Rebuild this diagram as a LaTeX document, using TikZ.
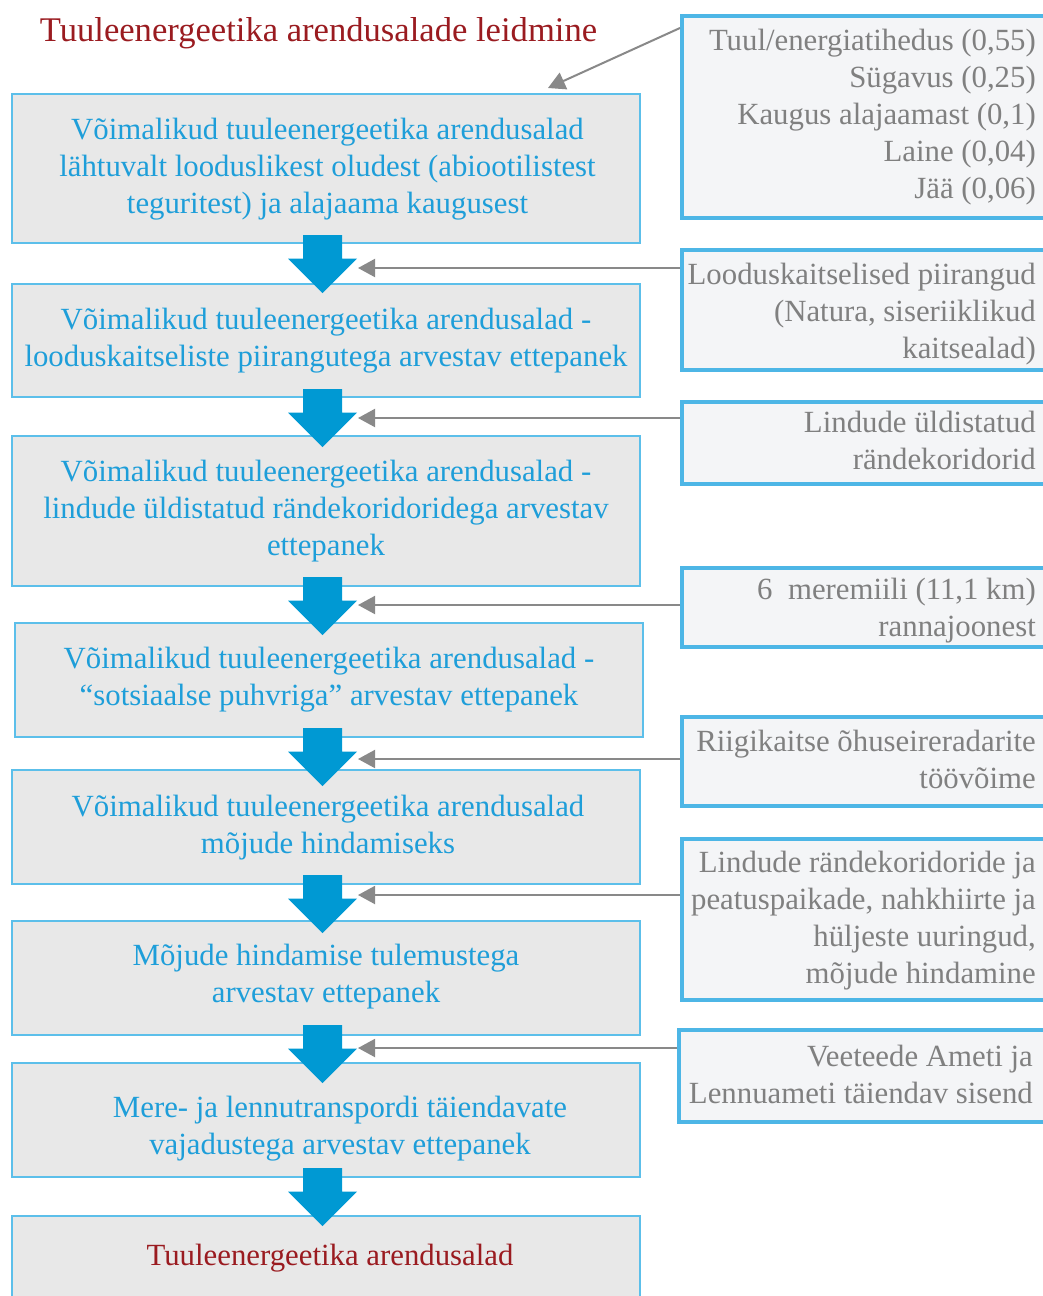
\documentclass[tikz,border=0pt]{standalone}
\usepackage{fontspec}
\setmainfont{Liberation Serif}
\usetikzlibrary{arrows.meta}
\definecolor{boxfill}{HTML}{E8E8E8}
\definecolor{boxline}{HTML}{5CBFEA}
\definecolor{sidefill}{HTML}{F4F5F7}
\definecolor{sideline}{HTML}{4DB6E6}
\definecolor{bluetext}{HTML}{1E9ED9}
\definecolor{graytext}{HTML}{808080}
\definecolor{darkred}{HTML}{9A1B20}
\definecolor{arrowblue}{HTML}{0099D3}
\definecolor{conngray}{HTML}{898989}
\begin{document}
\begin{tikzpicture}[x=1pt,y=1pt,
 bodyfont/.style={font=\fontsize{30.8}{37}\selectfont},
 mainbox/.style={draw=boxline, line width=1.8pt, fill=boxfill, minimum width=628pt, inner sep=0pt, align=center, text=bluetext, bodyfont},
 maintext/.style={align=center, text=bluetext, inner sep=0pt, bodyfont},
 sidebox/.style={draw=sideline, line width=3.5pt, fill=sidefill, minimum width=380pt, inner sep=0pt, anchor=north west},
 sidetext/.style={anchor=east, align=right, text=graytext, inner sep=0pt, bodyfont},
 conn/.style={draw=conngray, line width=2pt, -{Triangle[length=17pt,width=18pt]}},
 downarrow/.pic={\fill[arrowblue] (-19.5,0) -- (19.5,0) -- (19.5,-23.5) -- (34.5,-23.5) -- (0,-58) -- (-34.5,-23.5) -- (-19.5,-23.5) -- cycle;}
]
\useasboundingbox (0,0) rectangle (1042,-1296);

% title
\node[text=darkred, font=\fontsize{34.6}{40}\selectfont, inner sep=0pt] (title) at (318.5,-33) {Tuuleenergeetika arendusalade leidmine};

% main boxes
\node[mainbox, minimum height=149pt] (L1) at (326,-168.5) {};
\node[maintext] (L1t) at (327.5,-169) {Võimalikud tuuleenergeetika arendusalad\\lähtuvalt looduslikest oludest (abiootilistest\\teguritest) ja alajaama kaugusest};
\node[mainbox, minimum height=113pt] (L2) at (326,-340.5) {Võimalikud tuuleenergeetika arendusalad -\\looduskaitseliste piirangutega arvestav ettepanek};
\node[mainbox, minimum height=150pt] (L3) at (326,-511) {Võimalikud tuuleenergeetika arendusalad -\\lindude üldistatud rändekoridoridega arvestav\\ettepanek};
\node[mainbox, minimum height=114pt] (L4) at (329,-680) {Võimalikud tuuleenergeetika arendusalad -\\“sotsiaalse puhvriga” arvestav ettepanek};
\node[mainbox, minimum height=114pt] (L5) at (326,-827) {};
\node[maintext] (L5t) at (328,-828) {Võimalikud tuuleenergeetika arendusalad\\mõjude hindamiseks};
\node[mainbox, minimum height=114pt] (L6) at (326,-978) {};
\node[maintext] (L6t) at (326,-977) {Mõjude hindamise tulemustega\\arvestav ettepanek};
\node[mainbox, minimum height=114pt] (L7) at (326,-1120) {};
\node[maintext] (L7t) at (340,-1129) {Mere- ja lennutranspordi täiendavate\\vajadustega arvestav ettepanek};
\node[mainbox, minimum height=110pt, anchor=north] (L8) at (326,-1215) {};
\node[text=darkred, bodyfont, inner sep=0pt] (L8t) at (330,-1258) {Tuuleenergeetika arendusalad};

% side boxes
\node[sidebox, minimum height=202pt] (R1) at (680,-14) {};
\node[sidebox, minimum height=120pt] (R2) at (680,-248) {};
\node[sidebox, minimum height=82pt] (R3) at (680,-400) {};
\node[sidebox, minimum height=79pt] (R4) at (680,-566) {};
\node[sidebox, minimum height=89pt] (R5) at (680,-715) {};
\node[sidebox, minimum height=161pt] (R6) at (680,-837) {};
\node[sidebox, minimum height=92pt, minimum width=383pt] (R7) at (677,-1028) {};

\node[sidetext] (R1t) at (1036,-117) {Tuul/energiatihedus (0,55)\\Sügavus (0,25)\\Kaugus alajaamast (0,1)\\Laine (0,04)\\Jää (0,06)};
\node[sidetext] (R2t) at (1036,-314) {Looduskaitselised piirangud\\(Natura, siseriiklikud\\kaitsealad)};
\node[sidetext] (R3t) at (1036,-440.5) {Lindude üldistatud\\rändekoridorid};
\node[sidetext] (R4t) at (1036,-610.5) {6\ \ meremiili (11,1 km)\\rannajoonest};
\node[sidetext] (R5t) at (1036,-759.5) {Riigikaitse õhuseireradarite\\töövõime};
\node[sidetext] (R6t) at (1036,-920.5) {Lindude rändekoridoride ja\\peatuspaikade, nahkhiirte ja\\hüljeste uuringud,\\mõjude hindamine};
\node[sidetext] (R7t) at (1033,-1074.5) {Veeteede Ameti ja\\Lennuameti täiendav sisend};

% connector end points
\coordinate (d0) at (680,-28);
\coordinate (d1) at (548,-88);
\coordinate (c1) at (358,-268);
\coordinate (c2) at (358,-418);
\coordinate (c3) at (358,-605);
\coordinate (c4) at (358,-759);
\coordinate (c5) at (358,-895);
\coordinate (c6) at (358,-1048);

% gray connectors
\draw[conn] (R1.west |- d0) -- (d1);
\draw[conn] (R2.west |- c1) -- (c1);
\draw[conn] (R3.west |- c2) -- (c2);
\draw[conn] (R4.west |- c3) -- (c3);
\draw[conn] (R5.west |- c4) -- (c4);
\draw[conn] (R6.west |- c5) -- (c5);
\draw[conn] (R7.west |- c6) -- (c6);

% blue block arrows
\pic at (322.5,-235) {downarrow};
\pic at (322.5,-389) {downarrow};
\pic at (322.5,-577) {downarrow};
\pic at (322.5,-728) {downarrow};
\pic at (322.5,-875) {downarrow};
\pic at (322.5,-1025) {downarrow};
\pic at (322.5,-1168) {downarrow};
\end{tikzpicture}
\end{document}
